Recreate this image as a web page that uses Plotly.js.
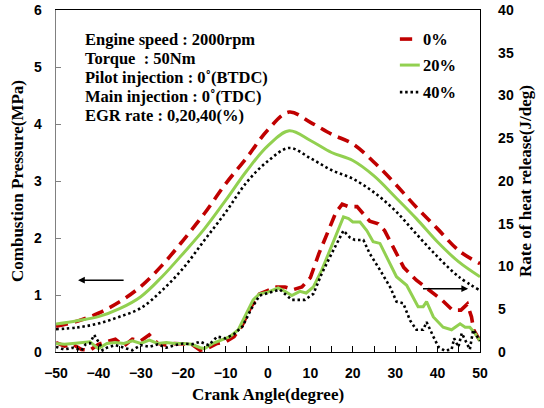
<!DOCTYPE html>
<html>
<head>
<meta charset="utf-8">
<script src="https://cdn.plot.ly/plotly-3.0.1.min.js"></script>
<style>html,body{margin:0;padding:0;background:#fff;}#chart{width:544px;height:408px;}</style>
</head>
<body>
<div id="chart"></div>
<script>
// Crank angle grid for combustion pressure (degree)
const angle = [-50,-45,-40,-35,-30,-25,-20,-15,-10,-5,0,5,10,15,20,25,30,35,40,45,50];
// Combustion pressure (MPa) for EGR 0%, 20%, 40%
const pressure0  = [0.45,0.54,0.68,0.88,1.15,1.52,1.96,2.43,2.95,3.41,3.90,4.21,4.03,3.82,3.65,3.33,2.95,2.54,2.16,1.78,1.55];
const pressure20 = [0.49,0.55,0.62,0.76,0.97,1.32,1.73,2.16,2.66,3.18,3.62,3.88,3.71,3.50,3.36,3.09,2.72,2.34,1.93,1.58,1.32];
const pressure40 = [0.40,0.43,0.50,0.62,0.77,1.08,1.47,1.96,2.45,2.98,3.35,3.58,3.40,3.19,3.04,2.80,2.48,2.07,1.67,1.32,1.08];

// Rate of heat release (J/deg)
const hrAngle0 = [-50,-48,-46,-44,-42,-40,-38,-36,-34,-32,-30,-28,-26,-24,-22,-20,-18,-16,-14,-12,-10,-8,-6,-4,-2,0,2,4,6,8,10,12,14,16,17.5,19,21,22.5,24,26,27.5,29.5,32,35,38,41,43.5,45.5,47,48,48.5,50];
const heat0    = [1.1,0.7,0.9,0.3,0.2,0.9,1.2,1.5,0.7,1.5,1.3,2.0,1.0,0.8,1.0,0.9,0.9,0.2,0.5,1.0,1.2,1.8,3.2,5.3,6.8,7.2,7.6,7.6,7.3,7.6,8.7,11.5,14.0,16.3,17.3,17.0,17.0,16.2,15.3,15.0,14.2,12.3,9.9,8.4,7.2,6.1,4.9,4.9,5.6,4.1,2.6,1.3];
const hrAngle20 = [-50,-48,-46,-44,-42,-40,-38,-36,-34,-32,-30,-28,-26,-24,-22,-20,-18,-16,-15,-13,-11,-9,-7,-5,-3.5,-2,0,2.4,4,5.6,7.5,9,10.7,12.7,14.6,16.2,17.8,19,20,21.7,23.3,24.8,26.4,28,30.3,32.7,35.4,36.6,37.4,39,41.3,43.3,45.3,46.5,47.6,48.8,50];
const heat20    = [1.0,0.9,1.0,1.1,1.2,0.4,1.0,1.1,1.0,1.3,1.0,1.4,1.0,1.1,1.0,1.0,0.9,0.5,0.4,1.0,1.4,1.8,2.6,4.5,6.1,6.8,7.0,7.5,7.1,6.6,7.1,6.9,7.6,9.6,11.9,14.0,15.8,15.6,15.2,15.2,14.2,12.9,12.7,11.1,8.8,7.8,5.3,5.3,5.9,4.1,2.9,2.6,3.3,2.9,2.9,2.2,1.3];
const hrAngle40 = [-50,-48,-46,-44,-43,-42,-41,-40,-39,-38,-36,-34,-32,-30,-28,-26,-24,-22,-20,-18,-16,-14,-12,-10,-8,-6,-4,-2,0,2.8,5.6,8.7,10.7,12.7,15,16.6,17.8,19.3,20.5,22.5,24,26.4,28.8,30.3,31.9,33.5,35,36.6,37.4,39,40.2,41.7,43.3,43.9,44.9,45.7,46.9,47.6,48.4,49.6,50];
const heat40    = [0.6,0.3,0.5,0.2,0.9,1.0,2.0,1.2,0.2,0.5,0.8,0.5,0.2,0.8,0.6,0.9,0.5,0.8,1.0,0.9,1.2,0.8,1.8,1.6,2.1,3.0,5.0,6.6,6.9,7.3,6.1,6.1,6.8,9.2,11.5,13.1,14.2,13.4,13.1,13.1,11.5,9.6,7.6,5.9,5.7,3.7,2.6,2.6,3.5,1.8,0.6,0.15,0.3,1.6,0.6,2.2,0.9,0.3,2.6,1.6,1.3];

const seriesNames = ['0%','20%','40%'];
const infoLines = ['Engine speed : 2000rpm','Torque  : 50Nm','Pilot injection : 0˚(BTDC)','Main injection : 0˚(TDC)','EGR rate : 0,20,40(%)'];

const RED = '#C00000', GREEN = '#92D050', BLACK = '#000000';
const styles = [
  {color: RED, width: 3.6, dash: '12px,7px'},
  {color: GREEN, width: 3, dash: 'solid'},
  {color: BLACK, width: 2.6, dash: '2.5px,2.8px'}
];

const pSeries = [pressure0, pressure20, pressure40];
const hAngles = [hrAngle0, hrAngle20, hrAngle40];
const hSeries = [heat0, heat20, heat40];

const traces = [];
for (let i = 0; i < 3; i++) {
  traces.push({x: angle, y: pSeries[i], type: 'scatter', mode: 'lines', name: seriesNames[i],
    line: Object.assign({shape: 'spline', smoothing: 1}, styles[i]), yaxis: 'y', showlegend: false});
  traces.push({x: hAngles[i], y: hSeries[i], type: 'scatter', mode: 'lines', name: seriesNames[i] + ' HRR',
    line: Object.assign({shape: 'linear'}, styles[i]), yaxis: 'y2', showlegend: false});
}

const serif = 'Liberation Serif, Times New Roman, serif';
const sans = 'Liberation Sans, Arial, sans-serif';

const annotations = [];
const lineY = [0.915, 0.859, 0.804, 0.747, 0.692];
infoLines.forEach((t, k) => annotations.push({
  xref: 'paper', yref: 'paper', x: 0.064, y: lineY[k], xanchor: 'left', yanchor: 'middle',
  text: t, showarrow: false, font: {family: serif, size: 16.5, weight: 'bold', color: '#000'}
}));
// custom legend texts
const legY = [0.915, 0.839, 0.760];
seriesNames.forEach((t, k) => annotations.push({
  xref: 'paper', yref: 'paper', x: 0.862, y: legY[k], xanchor: 'left', yanchor: 'middle',
  text: t, showarrow: false, font: {family: serif, size: 16.5, weight: 'bold', color: '#000'}
}));
// arrows indicating axis
annotations.push({xref: 'x', yref: 'y', x: -44.8, y: 1.26, ax: -33.7, ay: 1.26, axref: 'x', ayref: 'y',
  showarrow: true, arrowhead: 2, arrowsize: 0.9, arrowwidth: 1.5, arrowcolor: '#000', text: ''});
annotations.push({xref: 'x', yref: 'y', x: 47.2, y: 1.11, ax: 36.2, ay: 1.11, axref: 'x', ayref: 'y',
  showarrow: true, arrowhead: 2, arrowsize: 0.9, arrowwidth: 1.5, arrowcolor: '#000', text: ''});

const shapes = [];
const legX0 = [0.811, 0.811, 0.811], legX1 = [0.840, 0.858, 0.858];
for (let k = 0; k < 3; k++) {
  shapes.push({type: 'line', xref: 'paper', yref: 'paper', x0: legX0[k], x1: legX1[k], y0: legY[k], y1: legY[k],
    line: {color: styles[k].color, width: styles[k].width, dash: k === 0 ? 'solid' : styles[k].dash}});
}

const layout = {
  width: 544, height: 408,
  margin: {l: 56, r: 64, t: 10, b: 56},
  paper_bgcolor: '#fff', plot_bgcolor: '#fff',
  showlegend: false,
  xaxis: {
    range: [-50, 50], tick0: -50, dtick: 10, ticks: 'inside', ticklen: 6, tickcolor: '#000', tickwidth: 1,
    minor: {dtick: 5, ticks: 'inside', ticklen: 6, tickcolor: '#000'},
    showline: true, linecolor: '#000', linewidth: 1.3, mirror: true, showgrid: false, zeroline: false,
    ticklabelstandoff: 8,
    tickfont: {family: sans, size: 14, weight: 'bold', color: '#000'},
    title: {text: 'Crank Angle(degree)', standoff: 8, font: {family: serif, size: 17, weight: 'bold', color: '#000'}}
  },
  yaxis: {
    range: [0, 6], dtick: 1, ticks: 'inside', ticklen: 5, tickcolor: '#808080',
    showline: true, linecolor: '#808080', linewidth: 1.3, showgrid: false, zeroline: false,
    ticklabelstandoff: 10,
    tickfont: {family: sans, size: 14, weight: 'bold', color: '#000'},
    title: {text: 'Combustion Pressure(MPa)', standoff: 6, font: {family: serif, size: 17, weight: 'bold', color: '#000'}}
  },
  yaxis2: {
    range: [0, 40], dtick: 5, overlaying: 'y', side: 'right', ticks: '',
    showline: true, linecolor: '#000', linewidth: 1.3, showgrid: false, zeroline: false,
    ticklabelstandoff: 14,
    tickfont: {family: sans, size: 14, weight: 'bold', color: '#000'},
    title: {text: 'Rate of heat release(J/deg)', standoff: 6, font: {family: serif, size: 17, weight: 'bold', color: '#000'}}
  },
  annotations: annotations,
  shapes: shapes
};

Plotly.newPlot('chart', traces, layout, {displayModeBar: false, staticPlot: true});
</script>
</body>
</html>
